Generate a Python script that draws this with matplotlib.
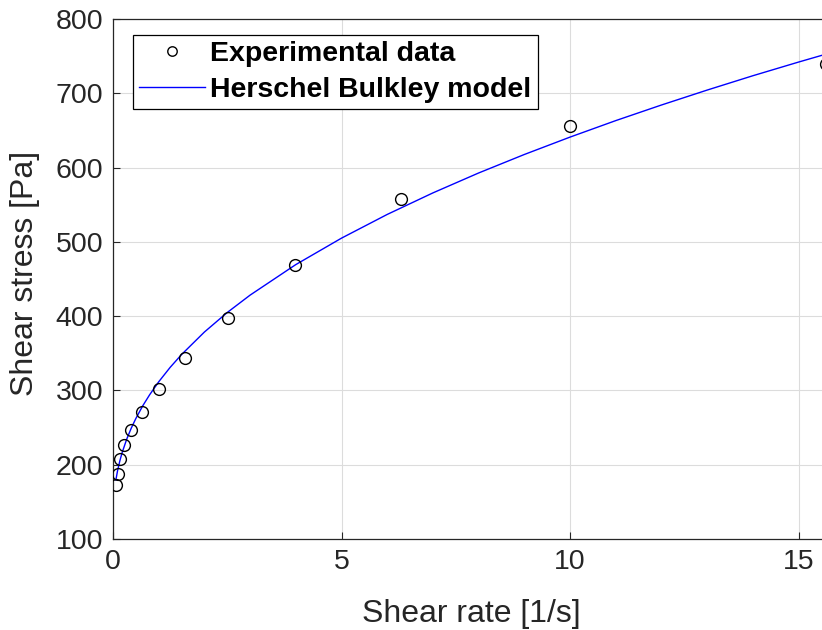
import matplotlib

matplotlib.use("Agg")
matplotlib.rcParams["font.family"] = ["Liberation Sans", "DejaVu Sans"]
import matplotlib.pyplot as plt

# experimental points
shear_rate = [0.063, 0.1, 0.158, 0.251, 0.398, 0.631, 1.0, 1.585, 2.512, 3.981, 6.31, 10.0, 15.6]
shear_stress = [173, 188, 208, 227, 247, 271, 302, 344, 397, 469, 558, 656, 739]

# Herschel-Bulkley model curve
model_rate = [0.063, 0.1, 0.15, 0.2, 0.3, 0.4, 0.5, 0.65, 0.8, 1.0, 1.25, 1.5, 2.0, 2.5,
              3.0, 4.0, 5.0, 6.0, 7.0, 8.0, 9.0, 10.0, 11.0, 12.0, 13.0, 14.0, 15.0, 16.0]
model_stress = [179.4, 192.0, 205.3, 216.3, 234.4, 249.3, 262.2, 279.2, 294.0, 311.6, 331.0,
                348.3, 378.6, 404.9, 428.3, 469.4, 505.0, 536.9, 565.9, 592.7, 617.6, 641.0,
                663.2, 684.2, 704.3, 723.6, 742.0, 759.8]

x_ticks = [0, 5, 10, 15]
y_ticks = [100, 200, 300, 400, 500, 600, 700, 800]

dark = (0.15, 0.15, 0.15)

fig = plt.figure(figsize=(8.22, 6.3), dpi=100)
# axes run past the right edge of the figure, as in the reference
ax = fig.add_axes([113 / 822, 91 / 630, 914 / 822, 520 / 630])

ax.plot(shear_rate, shear_stress, linestyle="none", marker="o", markersize=8.5,
        markerfacecolor="none", markeredgecolor="black", markeredgewidth=1.0,
        label="Experimental data", zorder=4)
ax.plot(model_rate, model_stress, color="#0000ff", linewidth=1.0,
        label="Herschel Bulkley model", zorder=3)

ax.set_xlim(0, 20)
ax.set_ylim(100, 800)
ax.set_xticks(x_ticks)
ax.set_yticks(y_ticks)
ax.tick_params(direction="in", length=5, width=0.8, colors=dark, labelsize=20.5,
               top=False, right=False, pad=7)
ax.grid(True, color="#dcdcdc", linewidth=0.8)
ax.set_axisbelow(True)
for side in ("left", "bottom", "top"):
    ax.spines[side].set_color(dark)
    ax.spines[side].set_linewidth(0.9)
ax.spines["right"].set_visible(False)

ax.set_xlabel("Shear rate [1/s]", fontsize=23, color=dark)
ax.set_ylabel("Shear stress [Pa]", fontsize=23, color=dark)
ax.xaxis.set_label_coords((471 - 113) / 914, -(599 - 539) / 520)
ax.yaxis.set_label_coords((40 - 113) / 914, (539 - 273) / 520)

leg = ax.legend(loc="upper left", bbox_to_anchor=(20 / 914, 1 - 16 / 520),
                prop={"weight": "bold", "size": 20.5}, frameon=True, fancybox=False,
                edgecolor="black", framealpha=1, borderpad=0.22, handlelength=2.3,
                handletextpad=0.2, labelspacing=0.34, borderaxespad=0,
                markerscale=0.8)
leg.get_frame().set_linewidth(0.9)

fig.savefig("out.png", dpi=100)
